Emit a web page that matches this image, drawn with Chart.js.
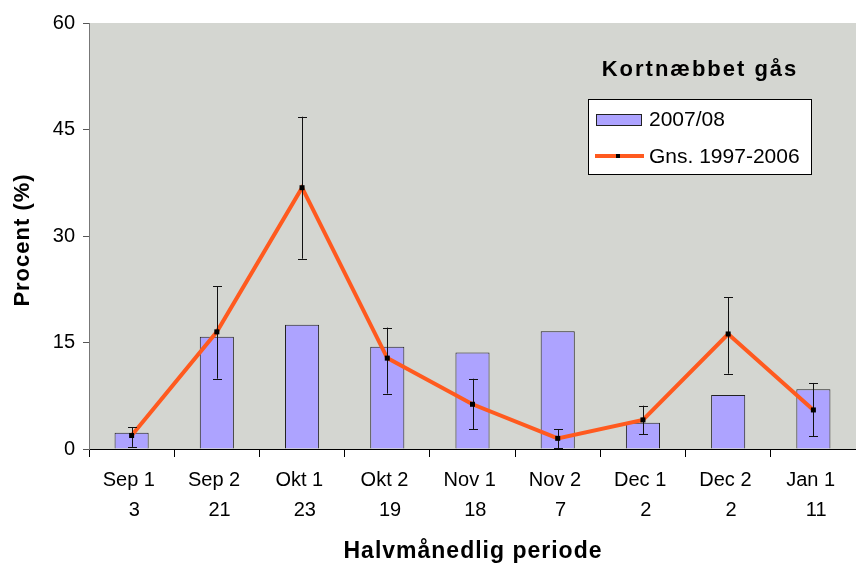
<!DOCTYPE html>
<html>
<head>
<meta charset="utf-8">
<script src="https://cdn.jsdelivr.net/npm/chart.js@4"></script>
<style>
html,body{margin:0;padding:0;background:#fff;}
#wrap{width:856px;height:567px;}
</style>
</head>
<body>
<div id="wrap"><canvas id="c" width="856" height="567"></canvas></div>
<script>
const categories = ["Sep 1","Sep 2","Okt 1","Okt 2","Nov 1","Nov 2","Dec 1","Dec 2","Jan 1"];
const counts = ["3","21","23","19","18","7","2","2","11"];
const season0708 = [2.3, 15.8, 17.5, 14.4, 13.6, 16.6, 3.7, 7.6, 8.4];
const avg9706 = [1.9, 16.5, 36.8, 12.8, 6.3, 1.5, 4.1, 16.2, 5.5];
const errLow = [0.3, 9.9, 26.8, 7.8, 2.8, 0.1, 2.1, 10.6, 1.8];
const errHigh = [3.1, 22.9, 46.8, 17.1, 9.9, 2.8, 6.1, 21.4, 9.3];
const yTicks = [0, 15, 30, 45, 60];
const chartTitle = 'Kortnæbbet gås';
const xTitle = 'Halvmånedlig periode';
const yTitle = 'Procent (%)';
const seriesNames = ['2007/08', 'Gns. 1997-2006'];

const FONT = "'Liberation Sans', Arial, sans-serif";
const BAR_FILL = '#ADA3FF';
const LINE_COL = '#FF5A1F';

const plotBg = {
  id: 'plotBg',
  beforeDraw(chart) {
    const {ctx, chartArea: a} = chart;
    ctx.save();
    ctx.fillStyle = '#D4D6D1';
    ctx.fillRect(a.left, a.top, a.right - a.left, a.bottom - a.top);
    ctx.restore();
  }
};

const errorBars = {
  id: 'errorBars',
  afterDatasetsDraw(chart) {
    const {ctx} = chart;
    const xs = chart.scales.x, ys = chart.scales.y;
    ctx.save();
    ctx.strokeStyle = '#111';
    ctx.lineWidth = 1;
    for (let i = 0; i < categories.length; i++) {
      const x = Math.round(xs.getPixelForValue(i)) + 0.5;
      const y1 = ys.getPixelForValue(errLow[i]);
      const y2 = ys.getPixelForValue(errHigh[i]);
      ctx.beginPath();
      ctx.moveTo(x, y1); ctx.lineTo(x, y2);
      ctx.moveTo(x - 4.5, Math.round(y1) + 0.5); ctx.lineTo(x + 4.5, Math.round(y1) + 0.5);
      ctx.moveTo(x - 4.5, Math.round(y2) + 0.5); ctx.lineTo(x + 4.5, Math.round(y2) + 0.5);
      ctx.stroke();
    }
    ctx.fillStyle = '#000';
    for (let i = 0; i < categories.length; i++) {
      const x = xs.getPixelForValue(i), y = ys.getPixelForValue(avg9706[i]);
      ctx.fillRect(x - 2.5, y - 2.5, 5, 5);
    }
    ctx.restore();
  }
};

const texts = {
  id: 'texts',
  afterDraw(chart) {
    const {ctx, chartArea: a} = chart;
    ctx.save();
    ctx.fillStyle = '#000';
    ctx.textAlign = 'center';
    ctx.textBaseline = 'middle';
    ctx.letterSpacing = '1px';
    ctx.font = "bold 23px " + FONT;
    ctx.fillText(xTitle, (a.left + a.right) / 2 + 0.5, 552);
    ctx.save();
    ctx.translate(23, (a.top + a.bottom) / 2 + 4);
    ctx.rotate(-Math.PI / 2);
    ctx.font = "bold 22px " + FONT;
    ctx.fillText(yTitle, 0, 0);
    ctx.restore();
    const bx = a.left + 499, by = a.top + 76, bw = 223, bh = 75;
    ctx.letterSpacing = '2px';
    ctx.font = "bold 22px " + FONT;
    ctx.fillText(chartTitle, bx + 112, a.top + 47);
    ctx.letterSpacing = '0px';
    ctx.fillStyle = '#fff';
    ctx.fillRect(bx, by, bw, bh);
    ctx.strokeStyle = '#000';
    ctx.lineWidth = 1;
    ctx.strokeRect(bx + 0.5, by + 0.5, bw, bh);
    ctx.fillStyle = BAR_FILL;
    ctx.fillRect(bx + 8, by + 15, 45, 11);
    ctx.strokeStyle = '#222';
    ctx.strokeRect(bx + 8.5, by + 15.5, 45, 11);
    ctx.strokeStyle = LINE_COL;
    ctx.lineWidth = 4;
    ctx.beginPath();
    ctx.moveTo(bx + 7, by + 57); ctx.lineTo(bx + 56, by + 57);
    ctx.stroke();
    ctx.fillStyle = '#000';
    ctx.fillRect(bx + 28, by + 55, 4, 4);
    ctx.font = "21px " + FONT;
    ctx.textAlign = 'left';
    ctx.fillText(seriesNames[0], bx + 61, by + 21);
    ctx.fillText(seriesNames[1], bx + 61, by + 58);
    ctx.restore();
  }
};

new Chart(document.getElementById('c'), {
  data: {
    labels: categories.map((c, i) => [c + ' ', ' ' + counts[i]]),
    datasets: [
      {
        type: 'line',
        label: seriesNames[1],
        data: avg9706,
        borderColor: LINE_COL,
        borderWidth: 4,
        pointRadius: 0,
        tension: 0,
        order: 1
      },
      {
        type: 'bar',
        label: seriesNames[0],
        data: season0708,
        backgroundColor: BAR_FILL,
        borderColor: '#222',
        borderWidth: 1,
        barPercentage: 0.4,
        categoryPercentage: 1,
        order: 2
      }
    ]
  },
  options: {
    responsive: false,
    animation: false,
    devicePixelRatio: 1,
    layout: {padding: {top: 23, right: 0, left: 0, bottom: 0}},
    plugins: {legend: {display: false}, tooltip: {enabled: false}},
    scales: {
      x: {
        type: 'category',
        offset: true,
        grid: {display: true, drawOnChartArea: false, drawTicks: true, tickLength: 8, color: '#000', offset: true},
        border: {color: '#000', width: 1},
        ticks: {color: '#000', font: {family: FONT, size: 20, lineHeight: 1.5}, padding: 8, maxRotation: 0, autoSkip: false},
        afterFit(s) { s.height = 118; }
      },
      y: {
        min: 0, max: 60,
        afterBuildTicks(s) { s.ticks = yTicks.map(v => ({value: v})); },
        grid: {display: true, drawOnChartArea: false, drawTicks: true, tickLength: 6, color: '#555'},
        border: {color: '#777', width: 1},
        ticks: {color: '#000', font: {family: FONT, size: 20}, padding: 8},
        afterFit(s) { s.width = 89; }
      }
    }
  },
  plugins: [plotBg, errorBars, texts]
});
</script>
</body>
</html>
